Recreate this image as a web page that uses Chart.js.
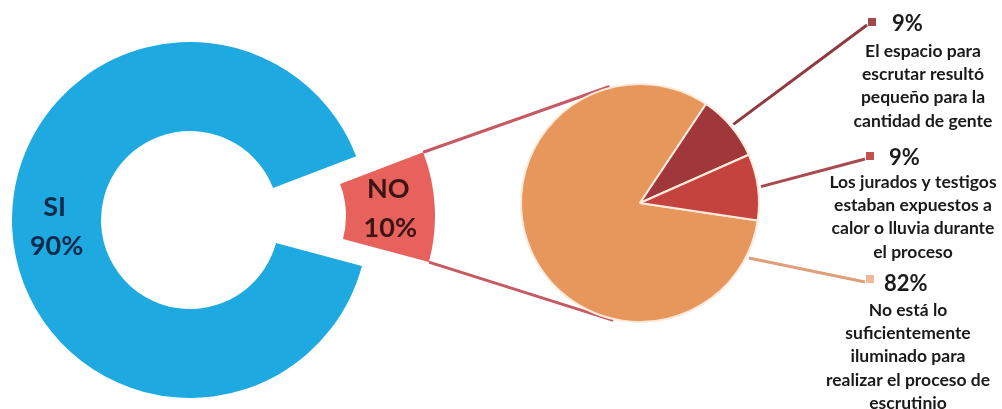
<!DOCTYPE html>
<html>
<head>
<meta charset="utf-8">
<script src="https://cdn.jsdelivr.net/npm/chart.js@4.4.1/dist/chart.umd.min.js"></script>
<style>
  html, body { margin: 0; padding: 0; background: #fff; overflow: hidden; }
  body { position: relative; width: 1002px; height: 409px; }
  canvas { position: absolute; }
  #ring { left: 12px; top: 42px; }
  #ringNo { left: 79px; top: 38px; }   /* NO slice pulled out of the ring */
  #detail { left: 300px; top: 0; }
</style>
</head>
<body>
<canvas id="ring" width="356" height="356"></canvas>
<canvas id="ringNo" width="356" height="356"></canvas>
<canvas id="detail" width="702" height="409"></canvas>
<script>
// Main answer (ring) and the breakdown of the "NO" answers (pie).
const mainLabels = ['SI', 'NO'];
const mainValues = [90, 10];

const detailValues = [82, 9, 9];
const detailLabels = [
  ['No está lo', 'suficientemente', 'iluminado para', 'realizar el proceso de', 'escrutinio'],
  ['El espacio para', 'escrutar resultó', 'pequeño para la', 'cantidad de gente'],
  ['Los jurados y testigos', 'estaban expuestos a', 'calor o lluvia durante', 'el proceso'],
];

const MAIN_COLORS = ['#1FA9E1', '#E8625D'];
const MAIN_TEXT = ['#0E2A4A', '#3A1512'];
const DETAIL_COLORS = ['#E8975C', '#A0373A', '#C4433F'];
const MARKER_COLORS = ['#F3B897', '#A04A50', '#C8504C'];
const LEADER_COLORS = ['#DDA07A', '#8E3A40', '#A84B50'];
const FONT = 'Lato, "Open Sans", sans-serif';

// where each pie label block sits (page px)
const LABEL_BOXES = [
  { mx: 870, my: 279, hx: 884, hy: 284, cx: 908, ty: 310 },
  { mx: 872, my: 22, hx: 892, hy: 24, cx: 923, ty: 51 },
  { mx: 870, my: 156, hx: 889, hy: 158, cx: 913, ty: 182 },
];
const LINE_STEP = 23.4;

const pct = (vals, i) => Math.round(vals[i] / vals.reduce((a, b) => a + b, 0) * 100) + '%';

const ringText = {
  id: 'ringText',
  afterDatasetsDraw(chart, args, opts) {
    const i = opts.index;
    const p = chart.getDatasetMeta(0).data[i].getCenterPoint();
    const { ctx } = chart;
    ctx.save();
    ctx.font = `bold 27px ${FONT}`;
    ctx.fillStyle = MAIN_TEXT[i];
    ctx.textAlign = 'center';
    ctx.textBaseline = 'middle';
    ctx.fillText(mainLabels[i], p.x - 2, p.y - 19.5);
    ctx.fillText(pct(mainValues, i), p.x, p.y + 19.5);
    ctx.restore();
  },
};

function makeRing(id, shown) {
  const el = document.getElementById(id);
  return new Chart(el, {
    type: 'doughnut',
    data: {
      labels: mainLabels,
      datasets: [{
        data: mainValues,
        backgroundColor: MAIN_COLORS.map((c, i) => (i === shown ? c : 'rgba(0,0,0,0)')),
        borderWidth: 0,
      }],
    },
    options: {
      responsive: false,
      animation: false,
      cutout: '50%',
      rotation: 105,
      events: [],
      plugins: { legend: { display: false }, tooltip: { enabled: false }, ringText: { index: shown } },
    },
    plugins: [ringText],
  });
}

const ringChart = makeRing('ring', 0);
const noChart = makeRing('ringNo', 1);

function tangentPoint(px, py, cx, cy, r, side) {
  const d = Math.hypot(px - cx, py - cy);
  const ang = Math.atan2(py - cy, px - cx) + side * Math.acos(r / d);
  return [cx + r * Math.cos(ang), cy + r * Math.sin(ang)];
}

const detailDecor = {
  id: 'detailDecor',
  // zoom lines from the pulled-out NO slice to the pie
  beforeDatasetsDraw(chart) {
    const { ctx } = chart;
    const src = noChart.canvas, dst = chart.canvas;
    const no = noChart.getDatasetMeta(0).data[1];
    const pie = chart.getDatasetMeta(0).data[0];
    const ox = src.offsetLeft - dst.offsetLeft, oy = src.offsetTop - dst.offsetTop;
    const r = pie.outerRadius + 1;
    ctx.save();
    ctx.strokeStyle = '#C65A62';
    ctx.lineWidth = 3;
    [[no.startAngle, 1], [no.endAngle, -1]].forEach(([a, side]) => {
      const px = no.x + ox + Math.cos(a) * no.outerRadius;
      const py = no.y + oy + Math.sin(a) * no.outerRadius;
      const [tx, ty] = tangentPoint(px, py, pie.x, pie.y, r, side);
      const len = Math.hypot(tx - px, ty - py);
      ctx.beginPath();
      ctx.moveTo(px, py);
      ctx.lineTo(tx + (tx - px) / len * 10, ty + (ty - py) / len * 10);
      ctx.stroke();
    });
    ctx.restore();
  },
  // leader lines, markers and texts on the right
  afterDatasetsDraw(chart) {
    const { ctx } = chart;
    const ox = chart.canvas.offsetLeft, oy = chart.canvas.offsetTop;
    const arcs = chart.getDatasetMeta(0).data;
    ctx.save();
    arcs.forEach((arc, i) => {
      const box = LABEL_BOXES[i];
      const a = arc.startAngle + Math.min((arc.endAngle - arc.startAngle) / 2, 0.32);
      const sx = arc.x + Math.cos(a) * (arc.outerRadius + 3);
      const sy = arc.y + Math.sin(a) * (arc.outerRadius + 3);
      ctx.strokeStyle = LEADER_COLORS[i];
      ctx.lineWidth = 3;
      ctx.beginPath();
      ctx.moveTo(sx, sy);
      ctx.lineTo(box.mx - 5 - ox, box.my + 3 - oy);
      ctx.stroke();

      ctx.fillStyle = MARKER_COLORS[i];
      ctx.fillRect(box.mx - 4 - ox, box.my - 4 - oy, 8, 8);

      ctx.fillStyle = '#1A1A1A';
      ctx.textBaseline = 'middle';
      ctx.textAlign = 'left';
      ctx.font = `bold 22px ${FONT}`;
      ctx.fillText(pct(detailValues, i), box.hx - ox, box.hy - oy);

      ctx.textAlign = 'center';
      ctx.font = `bold 17.5px ${FONT}`;
      detailLabels[i].forEach((line, k) => {
        ctx.fillText(line, box.cx - ox, box.ty + k * LINE_STEP - oy);
      });
    });
    ctx.restore();
  },
};

new Chart(document.getElementById('detail'), {
  type: 'pie',
  data: {
    labels: detailLabels.map((l) => l.join(' ')),
    datasets: [{
      data: detailValues,
      backgroundColor: DETAIL_COLORS,
      borderColor: '#FCEBDC',
      borderWidth: 2,
    }],
  },
  options: {
    responsive: false,
    animation: false,
    rotation: 98.5,
    events: [],
    layout: { padding: { left: 220, right: 242, top: 83, bottom: 86 } },
    plugins: { legend: { display: false }, tooltip: { enabled: false } },
  },
  plugins: [detailDecor],
});
</script>
</body>
</html>
